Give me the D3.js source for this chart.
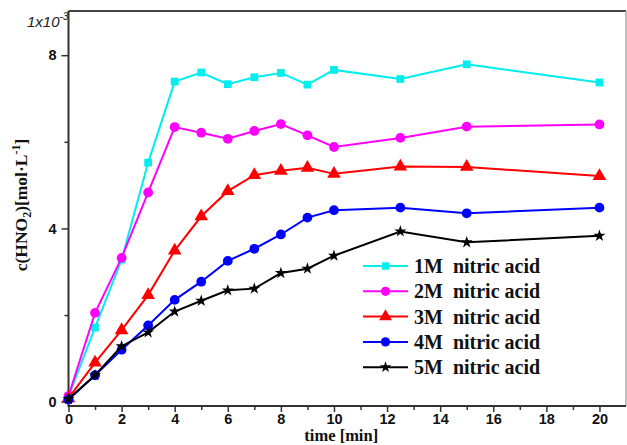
<!DOCTYPE html>
<html><head><meta charset="utf-8">
<script src="https://cdn.jsdelivr.net/npm/d3@7"></script>
<style>body{margin:0;background:#fff}svg{display:block}</style>
</head><body>
<svg id="c" width="627" height="445"></svg>
<script>
const times = [0,1,2,3,4,5,6,7,8,9,10,12.5,15,20];
const c1M = [0.12,1.71,3.28,5.52,7.39,7.60,7.33,7.49,7.59,7.32,7.66,7.45,7.79,7.37];
const c2M = [0.13,2.05,3.32,4.83,6.34,6.21,6.07,6.25,6.41,6.15,5.88,6.09,6.35,6.40];
const c3M = [0.08,0.90,1.65,2.46,3.49,4.28,4.86,5.23,5.33,5.40,5.26,5.43,5.42,5.21];
const c4M = [0.05,0.61,1.20,1.76,2.35,2.77,3.25,3.53,3.86,4.25,4.42,4.48,4.35,4.48];
const c5M = [0.06,0.61,1.28,1.60,2.08,2.33,2.57,2.61,2.97,3.07,3.37,3.93,3.68,3.83];
const seriesNames = ["1M  nitric acid","2M  nitric acid","3M  nitric acid","4M  nitric acid","5M  nitric acid"];
const seriesColors = ["#00eeee","#ff00ff","#ff0000","#0000ff","#000000"];
const seriesSymbols = [d3.symbolSquare,d3.symbolCircle,d3.symbolTriangle,d3.symbolCircle,d3.symbolStar];
const symbolSizes = [60,75,80,75,45];
const xMajor = [0,2,4,6,8,10,12,14,16,18,20];
const xMinor = [1,3,5,7,9,11,13,15,17,19];
const yMajor = [0,4,8];
const yMinor = [2,6];
const allSeries = [c1M,c2M,c3M,c4M,c5M];

const svg = d3.select("#c");
const L=68.5, R=626, T=11, B=406;
const x = d3.scaleLinear().domain([0,21]).range([L,R]);
const y = d3.scaleLinear().domain([-0.1,9.02]).range([B,T]);

// frame
svg.append("line").attr("x1",L).attr("x2",R).attr("y1",T).attr("y2",T).attr("stroke","#444").attr("stroke-width",2);
svg.append("line").attr("x1",R).attr("x2",R).attr("y1",T).attr("y2",B).attr("stroke","#aaa").attr("stroke-width",1.5);

// axes
const xAxis = d3.axisBottom(x).tickValues(xMajor).tickSize(6).tickSizeOuter(0).tickFormat(d3.format("d"));
const gx = svg.append("g").attr("transform",`translate(0,${B})`).call(xAxis);
const xAxisMinor = d3.axisBottom(x).tickValues(xMinor).tickSize(4).tickSizeOuter(0).tickFormat("");
const gxm = svg.append("g").attr("transform",`translate(0,${B})`).call(xAxisMinor);
gxm.select(".domain").remove();
const yAxis = d3.axisLeft(y).tickValues(yMajor).tickSize(7).tickSizeOuter(0).tickFormat(d3.format("d"));
const gy = svg.append("g").attr("transform",`translate(${L},0)`).call(yAxis);
const yAxisMinor = d3.axisLeft(y).tickValues(yMinor).tickSize(4).tickSizeOuter(0).tickFormat("");
const gym = svg.append("g").attr("transform",`translate(${L},0)`).call(yAxisMinor);
gym.select(".domain").remove();
[gx,gxm,gy,gym].forEach(g=>{
  g.selectAll(".domain").attr("stroke","#333").attr("stroke-width",2);
  g.selectAll(".tick line").attr("stroke","#333").attr("stroke-width",1.5);
  g.selectAll(".tick text").attr("font-family","Liberation Sans, Arial, sans-serif").attr("font-weight","bold").attr("font-size",14.5).attr("fill","#111");
});
gx.selectAll(".tick text").attr("y",8).attr("dy","0.71em");
gy.selectAll(".tick text").attr("dx","-2");
gx.select(".domain").attr("d",`M${L-1},0H${R}`);
gy.select(".domain").attr("d",`M0,${B}V${T}`);

// multiplier label
const mt = svg.append("text").attr("x",27).attr("y",27).attr("font-family","Liberation Sans, Arial, sans-serif").attr("font-style","italic").attr("font-size",15).attr("fill","#222");
mt.append("tspan").text("1x10");
mt.append("tspan").attr("font-size",10).attr("dy",-7).text("-3");

// axis titles
svg.append("text").attr("x",(L+R)/2 - 6).attr("y",441).attr("text-anchor","middle")
  .attr("font-family","Liberation Serif, Times New Roman, serif").attr("font-weight","bold").attr("font-size",16.5).attr("fill","#111").text("time [min]");
const yl = svg.append("text").attr("transform","translate(27,205) rotate(-90)").attr("text-anchor","middle")
  .attr("font-family","Liberation Serif, Times New Roman, serif").attr("font-weight","bold").attr("font-size",17.5).attr("fill","#111");
yl.append("tspan").text("c(HNO");
yl.append("tspan").attr("font-size",12).attr("dy",4).text("2");
yl.append("tspan").attr("dy",-4).text(")[mol·L");
yl.append("tspan").attr("font-size",12).attr("dy",-7).text("-1");
yl.append("tspan").attr("dy",7).text("]");

// series
const line = d3.line().x((d,i)=>x(times[i])).y(d=>y(d));
allSeries.forEach((vals,si)=>{
  svg.append("path").datum(vals).attr("d",line).attr("fill","none").attr("stroke",seriesColors[si]).attr("stroke-width",2);
  const sym = d3.symbol().type(seriesSymbols[si]).size(symbolSizes[si]);
  svg.append("g").selectAll("path").data(vals).join("path")
    .attr("transform",(d,i)=>`translate(${x(times[i])},${y(d)})`)
    .attr("d",sym).attr("fill",seriesColors[si]);
});

// legend
const lg = svg.append("g");
seriesNames.forEach((n,i)=>{
  const yy = 266 + i*25.3;
  lg.append("line").attr("x1",363).attr("x2",408).attr("y1",yy).attr("y2",yy).attr("stroke",seriesColors[i]).attr("stroke-width",2);
  lg.append("path").attr("transform",`translate(385.5,${yy})`).attr("d",d3.symbol().type(seriesSymbols[i]).size(symbolSizes[i]*0.9)()).attr("fill",seriesColors[i]);
  lg.append("text").attr("x",414).attr("y",yy).attr("dy","0.35em").style("white-space","pre")
    .attr("font-family","Liberation Serif, Times New Roman, serif").attr("font-weight","bold").attr("font-size",20).attr("fill","#111").text(n);
});
</script>
</body></html>
